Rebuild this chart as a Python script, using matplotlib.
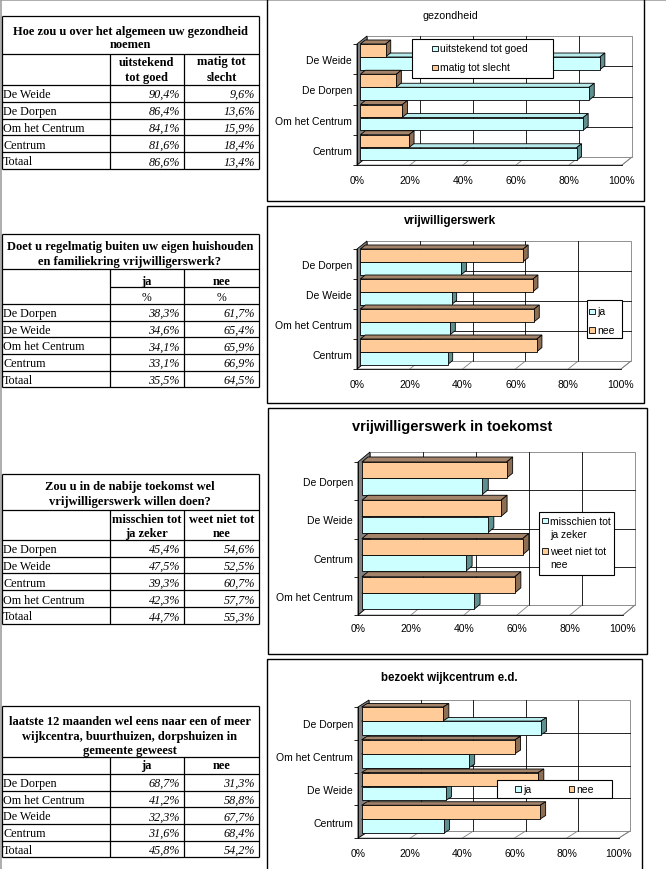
import matplotlib
matplotlib.use('Agg')
import matplotlib.pyplot as plt
from matplotlib.patches import Rectangle, Polygon

plt.rcParams['font.family'] = ['Liberation Sans', 'DejaVu Sans']

# ---- data ----
gez_cats = ['De Weide', 'De Dorpen', 'Om het Centrum', 'Centrum', 'Totaal']
gez_goed = [90.4, 86.4, 84.1, 81.6, 86.6]
gez_slecht = [9.6, 13.6, 15.9, 18.4, 13.4]

vw_cats = ['De Dorpen', 'De Weide', 'Om het Centrum', 'Centrum', 'Totaal']
vw_ja = [38.3, 34.6, 34.1, 33.1, 35.5]
vw_nee = [61.7, 65.4, 65.9, 66.9, 64.5]

tk_cats = ['De Dorpen', 'De Weide', 'Centrum', 'Om het Centrum', 'Totaal']
tk_misschien = [45.4, 47.5, 39.3, 42.3, 44.7]
tk_weetniet = [54.6, 52.5, 60.7, 57.7, 55.3]

wc_cats = ['De Dorpen', 'Om het Centrum', 'De Weide', 'Centrum', 'Totaal']
wc_ja = [68.7, 41.2, 32.3, 31.6, 45.8]
wc_nee = [31.3, 58.8, 67.7, 68.4, 54.2]

x_ticks = [0, 20, 40, 60, 80, 100]

CYAN, CYAN_TOP, CYAN_CAP = '#CCFFFF', '#B8EBEB', '#5F9090'
ORANGE, ORANGE_TOP, ORANGE_CAP = '#FFCC99', '#A3846A', '#8C6E55'
CHART_FS = 7.5

W, H = 666, 870
fig = plt.figure(figsize=(W / 100, H / 100), dpi=100)
bg = fig.add_axes([0, 0, 1, 1])
bg.set_xlim(0, W)
bg.set_ylim(H, 0)
bg.axis('off')

# spreadsheet frame
bg.plot([0, W], [0.5, 0.5], color='#a0a0a0', lw=1.2)
bg.plot([0.7, 0.7], [0, H], color='#a0a0a0', lw=1.2)


def pct(v):
    return f'{v:.1f}%'.replace('.', ',')


SERIF = ['Liberation Serif', 'DejaVu Serif']


def draw_table(top, bottom, title, title_ys, title_bot, heads, head_ys, head_bot,
               cats, col_a, col_b, sub=None):
    xs = [1.5, 109.5, 184, 259]
    lw = 0.9
    kw = dict(color='black', lw=lw, solid_capstyle='butt')
    bg.plot([xs[0], xs[3]], [top, top], **kw)
    bg.plot([xs[0], xs[3]], [bottom, bottom], **kw)
    bg.plot([xs[0], xs[0]], [top, bottom], **kw)
    bg.plot([xs[3], xs[3]], [top, bottom], **kw)
    bg.plot([xs[0], xs[3]], [title_bot, title_bot], **kw)
    bg.plot([xs[0], xs[3]], [head_bot, head_bot], **kw)
    for x in xs[1:3]:
        bg.plot([x, x], [title_bot, bottom], **kw)
    for line, y in zip(title, title_ys):
        bg.text(130, y + 0.8, line, ha='center', va='center', fontsize=9,
                fontweight='bold', family=SERIF)
    for j, lines in enumerate(heads):
        cx = (xs[j + 1] + xs[j + 2]) / 2
        for line, y in zip(lines, head_ys):
            bg.text(cx, y + 0.8, line, ha='center', va='center', fontsize=9,
                    fontweight='bold', family=SERIF)
    if sub is not None:
        sub_line, sub_y = sub
        bg.plot([xs[1], xs[3]], [sub_line, sub_line], **kw)
        for j in range(2):
            cx = (xs[j + 1] + xs[j + 2]) / 2
            bg.text(cx, sub_y, '%', ha='center', va='center', fontsize=8.5,
                    family=SERIF)
    rh = (bottom - head_bot) / len(cats)
    for i, (c, a, b) in enumerate(zip(cats, col_a, col_b)):
        y0 = head_bot + i * rh
        if i > 0:
            bg.plot([xs[0], xs[3]], [y0, y0], **kw)
        yc = y0 + rh / 2 + 0.8
        bg.text(3, yc, c, ha='left', va='center', fontsize=8.7, family=SERIF)
        bg.text(xs[2] - 4, yc, pct(a), ha='right', va='center', fontsize=8.7,
                style='italic', family=SERIF)
        bg.text(xs[3] - 4, yc, pct(b), ha='right', va='center', fontsize=8.7,
                style='italic', family=SERIF)


draw_table(17.3, 170, ['Hoe zou u over het algemeen uw gezondheid', 'noemen'],
           [30.7, 44], 55, [['uitstekend', 'tot goed'], ['matig tot', 'slecht']],
           [61.7, 77.3], 86, gez_cats, gez_goed, gez_slecht)
draw_table(235, 388.3, ['Doet u regelmatig buiten uw eigen huishouden',
                        'en familiekring vrijwilligerswerk?'],
           [246, 261.7], 270, [['ja'], ['nee']], [281.7], 305,
           vw_cats, vw_ja, vw_nee, sub=(288.3, 298.3))
draw_table(475, 625, ['Zou u in de nabije toekomst wel', 'vrijwilligerswerk willen doen?'],
           [486, 501.7], 510.7, [['misschien tot', 'ja zeker'], ['weet niet tot', 'nee']],
           [519.3, 533.3], 540.7, tk_cats, tk_misschien, tk_weetniet)
draw_table(707.3, 858.3, ['laatste 12 maanden wel eens naar een of meer',
                          'wijkcentra, buurthuizen, dorpshuizen in', 'gemeente geweest'],
           [721.7, 736, 750.7], 758.3, [['ja'], ['nee']], [765], 775,
           wc_cats, wc_ja, wc_nee)


def draw_chart(x0, x1, ytop, ybot, dxp, dyp, cats, low, high, xpad):
    n = len(cats)
    ax = fig.add_axes([x0 / W, 1 - ybot / H, (x1 - x0) / W, (ybot - ytop) / H])
    ax.set_xlim(0, 100)
    ax.set_ylim(0, n)
    ax.patch.set_visible(False)
    for s in ax.spines.values():
        s.set_visible(False)
    ddx = dxp / (x1 - x0) * 100
    ddy = dyp / ((ybot - ytop) / n)
    gkw = dict(lw=0.6, clip_on=False)
    # floor, back wall, left wall
    ax.add_patch(Polygon([(0, 0), (100, 0), (100 + ddx, ddy), (ddx, ddy)],
                         fc='white', ec='#808080', zorder=1, **gkw))
    ax.add_patch(Rectangle((ddx, ddy), 100, n, fc='white', ec='#808080',
                           zorder=1, **gkw))
    for g in x_ticks[1:-1]:
        ax.plot([g + ddx] * 2, [ddy, n + ddy], color='black', zorder=2, **gkw)
    for k in range(1, n):
        ax.plot([ddx, 100 + ddx], [k + ddy] * 2, color='black', zorder=2, **gkw)
    for g in x_ticks[1:]:
        ax.plot([g, g + ddx], [0, ddy], color='#808080', zorder=2, **gkw)
    ax.add_patch(Polygon([(0, 0), (ddx, ddy), (ddx, n + ddy), (0, n)],
                         fc='#808080', ec='black', zorder=2, **gkw))
    ax.plot([0, 100], [0, 0], color='black', zorder=3, **gkw)
    ax.plot([0, 0], [0, n], color='black', zorder=3, **gkw)

    # bars (top category first in the lists)
    xoff = 0.33 * ddx
    dxb, dyb = 0.5 * ddx, 0.5 * ddy
    ys = [n - 1 - i for i in range(n)]
    series = [(low[:n], 0.15, CYAN, CYAN_TOP, CYAN_CAP, 4),
              (high[:n], 0.58, ORANGE, ORANGE_TOP, ORANGE_CAP, 6)]
    for vals, rel, fc, tc, cc, z in series:
        h = 0.42
        for yb, v in zip(ys, vals):
            b0, b1 = yb + rel, yb + rel + h
            e = xoff + v
            ax.add_patch(Polygon([(xoff, b1), (xoff + dxb, b1 + dyb),
                                  (e + dxb, b1 + dyb), (e, b1)],
                                 fc=tc, ec='black', zorder=z, **gkw))
            ax.add_patch(Polygon([(e, b0), (e + dxb, b0 + dyb),
                                  (e + dxb, b1 + dyb), (e, b1)],
                                 fc=cc, ec='black', zorder=z, **gkw))
        ax.barh([yb + rel for yb in ys], vals, height=h, left=xoff, align='edge',
                color=fc, edgecolor='black', linewidth=0.6, zorder=z + 1)

    ax.set_xticks(x_ticks)
    ax.set_xticklabels([f'{t}%' for t in x_ticks])
    ax.tick_params(axis='x', length=0, pad=xpad, labelsize=CHART_FS)
    ax.set_yticks(range(n + 1))
    ax.set_yticklabels([])
    ax.set_yticks([k + 0.5 for k in range(n)], minor=True)
    ax.set_yticklabels(cats[::-1], minor=True)
    ax.tick_params(axis='y', which='major', length=3, width=0.6)
    ax.tick_params(axis='y', which='minor', length=0, pad=3.6, labelsize=CHART_FS)
    for lab in ax.get_yticklabels(minor=True):
        lab.set_y(lab.get_position()[1])
    return ax


draw_chart(357, 622, 45, 166, 10, 8, gez_cats[:4], gez_goed, gez_slecht, 7)
draw_chart(357, 621, 250, 370, 10, 8, vw_cats[:4], vw_ja, vw_nee, 7)
draw_chart(358, 623, 463, 616, 12, 10, tk_cats[:4], tk_misschien, tk_weetniet, 6)
draw_chart(358, 619, 708, 839, 11, 7, wc_cats[:4], wc_ja, wc_nee, 7)

# overlay: chart frames, titles, legends
fg = fig.add_axes([0, 0, 1, 1])
fg.set_xlim(0, W)
fg.set_ylim(H, 0)
fg.axis('off')
fg.patch.set_visible(False)

for (a, b, c, d) in [(267, -2, 644, 202), (267, 207, 644, 404),
                     (268, 409, 647, 655), (267, 660, 642, 875)]:
    fg.add_patch(Rectangle((a, b), c - a, d - b, fill=False, ec='black', lw=1.0))

fg.text(450, 16, 'gezondheid', ha='center', va='center', fontsize=7.7)
fg.text(450, 221, 'vrijwilligerswerk', ha='center', va='center', fontsize=8.5,
        fontweight='bold')
fg.text(452, 427, 'vrijwilligerswerk in toekomst', ha='center', va='center',
        fontsize=10.5, fontweight='bold')
fg.text(449, 678, 'bezoekt wijkcentrum e.d.', ha='center', va='center',
        fontsize=8.3, fontweight='bold')


def legend(box, entries):
    a, b, c, d = box
    fg.add_patch(Rectangle((a, b), c - a, d - b, fc='white', ec='black', lw=0.8))
    for mx, my, color, lines in entries:
        fg.add_patch(Rectangle((mx - 2.7, my - 2.7), 5.4, 5.4, fc=color,
                               ec='black', lw=0.6))
        for k, line in enumerate(lines):
            fg.text(mx + 5, my + k * 13.3, line, ha='left', va='center',
                    fontsize=CHART_FS)


legend((411.7, 40, 553.3, 79.3), [(435, 49.3, CYAN, ['uitstekend tot goed']),
                                  (435, 68.3, ORANGE, ['matig tot slecht'])])
legend((587.3, 301, 622.3, 339.3), [(592, 312.3, CYAN, ['ja']),
                                    (592, 331, ORANGE, ['nee'])])
legend((539, 513.3, 614.3, 576), [(545, 521.7, CYAN, ['misschien tot', 'ja zeker']),
                                  (545, 552, ORANGE, ['weet niet tot', 'nee'])])
legend((497.3, 780.7, 612.3, 799.3), [(518, 790, CYAN, ['ja']),
                                      (571.5, 790, ORANGE, ['nee'])])

fig.savefig('out.png', dpi=100)
